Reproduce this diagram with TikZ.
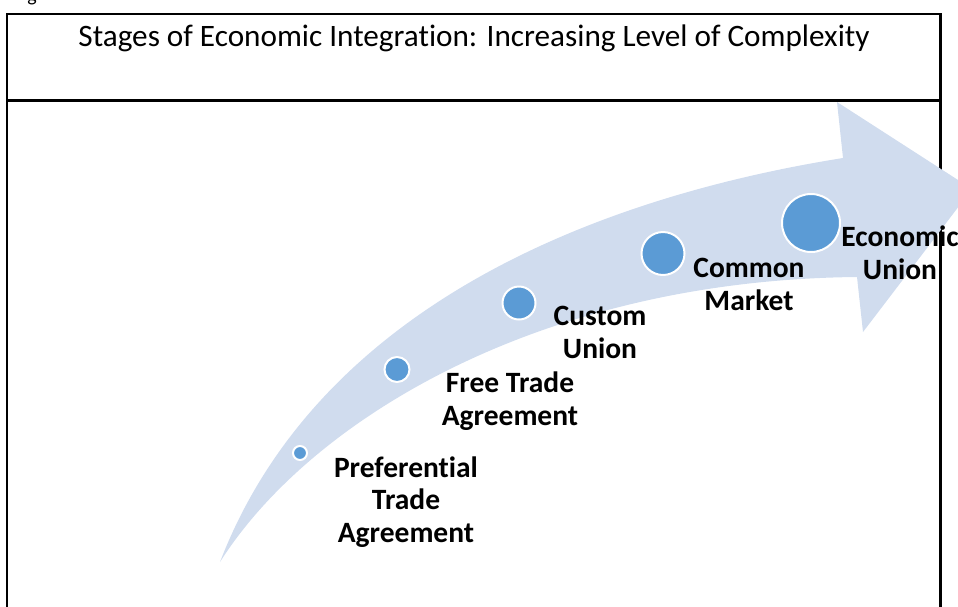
\documentclass[tikz,border=0pt]{standalone}
\usepackage{fontspec}
\setmainfont{Carlito}[Ligatures={NoCommon}]
\definecolor{arrowfill}{RGB}{208,220,238}
\definecolor{dotblue}{RGB}{91,155,213}
\begin{document}
\begin{tikzpicture}[x=1pt,y=-1pt,
  frameline/.style={line width=2.3pt, draw=black},
  stage/.style={circle, fill=dotblue, draw=white, line width=2pt, inner sep=0pt},
  lbl/.style={font=\fontsize{29.5}{32.5}\selectfont\bfseries, align=center, inner sep=0pt, anchor=base},
  titletext/.style={font=\fontsize{31.2}{37}\selectfont, inner sep=0pt, anchor=base}
]
\useasboundingbox (0,0) rectangle (958,606);
% stray caption fragment above the frame
\node[font=\fontsize{20}{24}\selectfont, inner sep=0pt, anchor=base] (capfrag) at (32,1.5) {g};
% frame
\draw[frameline] (7,14) rectangle (940.5,650);
\draw[frameline] (7,100.5) -- (940.5,100.5);
\node[titletext] (title) at (474,46) {Stages of Economic Integration: Increasing Level of Complexity};
% curved arrow
\fill[arrowfill] (220,562) .. controls (315,315) and (580,200) .. (843,158)
  -- (837,102) -- (972,189) -- (863,332) -- (857,277)
  .. controls (540,280) and (310,420) .. (220,562) -- cycle;
% stage dots
\node[stage, minimum size=14pt] (d1) at (300,453) {};
\node[stage, minimum size=25pt] (d2) at (397,369.5) {};
\node[stage, minimum size=33pt] (d3) at (519,303) {};
\node[stage, minimum size=43pt] (d4) at (663,253.5) {};
\node[stage, minimum size=58pt] (d5) at (811,223) {};
% labels (anchor base = baseline of last line)
\node[lbl] (l1) at (406,542) {Preferential\\Trade\\Agreement};
\node[lbl] (l2) at (510,425) {Free Trade\\Agreement};
\node[lbl] (l3) at (600,358) {Custom\\Union};
\node[lbl] (l4) at (749,310) {Common\\Market};
\node[lbl] (l5) at (900,279) {Economic\\Union};
\end{tikzpicture}
\end{document}
